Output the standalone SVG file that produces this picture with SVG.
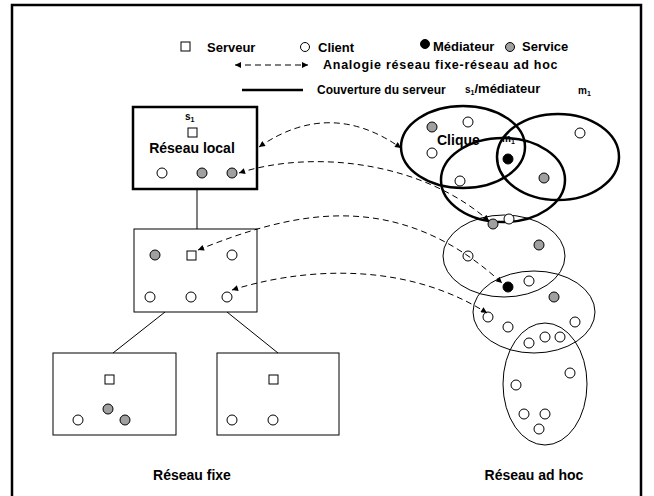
<svg xmlns="http://www.w3.org/2000/svg" width="654" height="496" viewBox="0 0 654 496">
<defs>
<marker id="ah" viewBox="0 0 10 10" refX="10" refY="5" markerWidth="7" markerHeight="6" markerUnits="userSpaceOnUse" orient="auto-start-reverse">
<path d="M0,0 L10,5 L0,10 z" fill="#000"/>
</marker>
<style>
text{font-family:"Liberation Sans",Arial,sans-serif;font-weight:bold;fill:#000}
.lg{font-size:12px}
.lt{font-size:13px}
.la{font-size:12.5px;letter-spacing:0.75px}
.lbl{font-size:14px}
.sm{font-size:10px}
.sub{font-size:7px}
.c{fill:#fff;stroke:#000;stroke-width:1}
.g{fill:#a0a0a0;stroke:#000;stroke-width:1}
.b{fill:#000;stroke:#000;stroke-width:1}
.sq{fill:#fff;stroke:#000;stroke-width:1}
.box{fill:#fff;stroke:#000;stroke-width:1}
.tbox{fill:#fff;stroke:#000;stroke-width:2.5}
.el{fill:none;stroke:#000;stroke-width:1}
.tel{fill:none;stroke:#000;stroke-width:2.5}
.ln{stroke:#000;stroke-width:1;fill:none}
.da{stroke:#000;stroke-width:1;fill:none;stroke-dasharray:6,4;marker-start:url(#ah);marker-end:url(#ah)}
</style>
</defs>
<path d="M12,496 V5 H641 V496" fill="none" stroke="#000" stroke-width="2.5"/>
<g id="legend">
<rect class="sq" x="181" y="42" width="9" height="9"/>
<text class="lt" x="207" y="52">Serveur</text>
<circle class="c" cx="305" cy="47" r="4.5"/>
<text class="lt" x="318" y="52">Client</text>
<circle class="b" cx="425" cy="44" r="4.5"/>
<text class="lt" x="433" y="51">Médiateur</text>
<circle class="g" cx="510" cy="47" r="4.5"/>
<text class="lt" x="522" y="51">Service</text>
<path class="da" d="M235,65 H308"/>
<text class="la" x="323" y="69">Analogie réseau fixe-réseau ad hoc</text>
<line x1="242" y1="90" x2="303" y2="90" stroke="#000" stroke-width="2.5"/>
<text class="lg" x="317" y="94">Couverture du serveur</text>
<text x="465" y="93"><tspan class="sm">s</tspan><tspan class="sub" dy="2">1</tspan><tspan class="lt" dy="-2">/médiateur</tspan></text>
<text x="578" y="94"><tspan class="sm">m</tspan><tspan class="sub" dy="2">1</tspan></text>
</g>
<g id="reseau-local">
<rect class="tbox" x="133" y="107" width="124" height="82"/>
<text x="185" y="120"><tspan class="sm">s</tspan><tspan class="sub" dy="2">1</tspan></text>
<rect class="sq" x="188" y="128" width="9" height="9"/>
<text class="lbl" x="192" y="153" text-anchor="middle">Réseau local</text>
<circle class="c" cx="162" cy="173" r="5"/>
<circle class="g" cx="202" cy="173" r="5"/>
<circle class="g" cx="232" cy="173" r="5"/>
</g>
<g id="box2">
<rect class="box" x="134" y="229" width="123" height="83"/>
<circle class="g" cx="155" cy="255" r="5"/>
<rect class="sq" x="187" y="251" width="9" height="9"/>
<circle class="c" cx="232" cy="255" r="5"/>
<circle class="c" cx="150" cy="297" r="5"/>
<circle class="c" cx="191" cy="297" r="5"/>
<circle class="c" cx="227" cy="297" r="5"/>
</g>
<g id="box3">
<rect class="box" x="53" y="353" width="123" height="82"/>
<rect class="sq" x="105" y="375" width="9" height="9"/>
<circle class="g" cx="108" cy="409" r="5"/>
<circle class="g" cx="125" cy="420" r="5"/>
<circle class="c" cx="78" cy="420" r="5"/>
</g>
<g id="box4">
<rect class="box" x="217" y="353" width="122" height="82"/>
<rect class="sq" x="269" y="375" width="9" height="9"/>
<circle class="c" cx="232" cy="420" r="5"/>
<circle class="c" cx="273" cy="420" r="5"/>
</g>
<g id="adhoc">
<ellipse class="tel" cx="463" cy="147" rx="62" ry="41"/>
<ellipse class="tel" cx="558" cy="157" rx="61" ry="43"/>
<ellipse class="tel" cx="503" cy="180" rx="62" ry="42"/>
<ellipse class="el" cx="504" cy="256" rx="61" ry="41"/>
<ellipse class="el" cx="534" cy="312" rx="61" ry="41"/>
<ellipse class="el" cx="545" cy="384" rx="42" ry="61"/>
<text class="lbl" x="437" y="145">Clique</text>
<text x="502" y="142"><tspan class="sm">m</tspan><tspan class="sub" dy="2">1</tspan></text>
<circle class="g" cx="432" cy="127" r="5"/>
<circle class="c" cx="468" cy="122" r="5"/>
<circle class="c" cx="432" cy="153" r="5"/>
<circle class="b" cx="508" cy="159" r="5"/>
<circle class="c" cx="460" cy="181" r="5"/>
<circle class="c" cx="580" cy="133" r="5"/>
<circle class="g" cx="544" cy="178" r="5"/>
<circle class="g" cx="493" cy="224" r="5"/>
<circle class="c" cx="509" cy="219" r="5"/>
<circle class="g" cx="539" cy="245" r="5"/>
<circle class="c" cx="468" cy="256" r="5"/>
<circle class="b" cx="508" cy="287" r="5"/>
<circle class="c" cx="529" cy="281" r="5"/>
<circle class="g" cx="554" cy="297" r="5"/>
<circle class="c" cx="488" cy="317" r="5"/>
<circle class="c" cx="575" cy="322" r="5"/>
<circle class="c" cx="508" cy="327" r="5"/>
<circle class="c" cx="529" cy="343" r="5"/>
<circle class="c" cx="545" cy="337" r="5"/>
<circle class="c" cx="560" cy="337" r="5"/>
<circle class="c" cx="570" cy="373" r="5"/>
<circle class="c" cx="516" cy="385" r="5"/>
<circle class="c" cx="524" cy="414" r="5"/>
<circle class="c" cx="545" cy="414" r="5"/>
<circle class="c" cx="539" cy="429" r="5"/>
</g>
<g id="connectors">
<line class="ln" x1="197" y1="189" x2="197" y2="229"/>
<line class="ln" x1="165" y1="312" x2="113" y2="353"/>
<line class="ln" x1="227" y1="312" x2="278" y2="353"/>
<path class="da" d="M259,147 Q330,98 401,148"/>
<path class="da" d="M239,173 C310,150 420,160 489,221"/>
<path class="da" d="M198,250 C290,213 395,185 502,283"/>
<path class="da" d="M232,290 C295,270 400,258 487,313"/>
</g>
<text class="lbl" x="192" y="480" text-anchor="middle">Réseau fixe</text>
<text class="lbl" x="534" y="480" text-anchor="middle">Réseau ad hoc</text>
</svg>
